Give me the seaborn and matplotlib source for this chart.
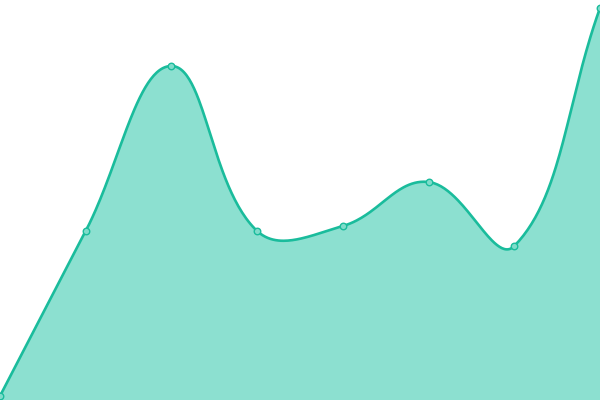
import numpy as np
import pandas as pd
import seaborn as sns
import matplotlib.pyplot as plt

# Data (y in chart units, 0..400)
steps = [0, 1, 2, 3, 4, 5, 6, 7]
values = [4, 169, 334, 169, 174, 218, 154, 392]

line_color = "#1abc9c"
fill_color = "#8ce0d0"
marker_fill = "#7fdcca"

sns.set_theme(style="white")

fig = plt.figure(figsize=(6, 4), dpi=100)
ax = fig.add_axes([0, 0, 1, 1])

# pixel-like space for the spline (chart.js style, tension 0.4)
px = np.array(steps, dtype=float) * 600 / 7
py = np.array(values, dtype=float)
t = 0.4
n = len(px)
cp_prev = np.zeros((n, 2))
cp_next = np.zeros((n, 2))
for i in range(n):
    p0 = np.array([px[max(i - 1, 0)], py[max(i - 1, 0)]])
    p1 = np.array([px[i], py[i]])
    p2 = np.array([px[min(i + 1, n - 1)], py[min(i + 1, n - 1)]])
    d01 = np.hypot(*(p1 - p0))
    d12 = np.hypot(*(p2 - p1))
    tot = d01 + d12
    s01 = d01 / tot if tot else 0
    s12 = d12 / tot if tot else 0
    cp_prev[i] = p1 - t * s01 * (p2 - p0)
    cp_next[i] = p1 + t * s12 * (p2 - p0)

curve_x, curve_y = [], []
u = np.linspace(0, 1, 60)
for i in range(n - 1):
    a = np.array([px[i], py[i]])
    b = cp_next[i]
    c = cp_prev[i + 1]
    d = np.array([px[i + 1], py[i + 1]])
    pts = ((1 - u) ** 3)[:, None] * a + (3 * (1 - u) ** 2 * u)[:, None] * b \
        + (3 * (1 - u) * u ** 2)[:, None] * c + (u ** 3)[:, None] * d
    curve_x.extend(pts[:, 0] * 7 / 600)
    curve_y.extend(pts[:, 1])

ax.fill_between(curve_x, curve_y, 0, color=fill_color, linewidth=0)
ax.plot(curve_x, curve_y, color=line_color, linewidth=1.9, solid_capstyle="round")

df = pd.DataFrame({"step": steps, "value": values})
sns.scatterplot(data=df, x="step", y="value", ax=ax, s=22, color=marker_fill,
                edgecolor=line_color, linewidth=1.0, zorder=5, clip_on=False)

ax.set_xlim(0, 7)
ax.set_ylim(0, 400)
ax.set_axis_off()

fig.savefig("out.png", dpi=100)
